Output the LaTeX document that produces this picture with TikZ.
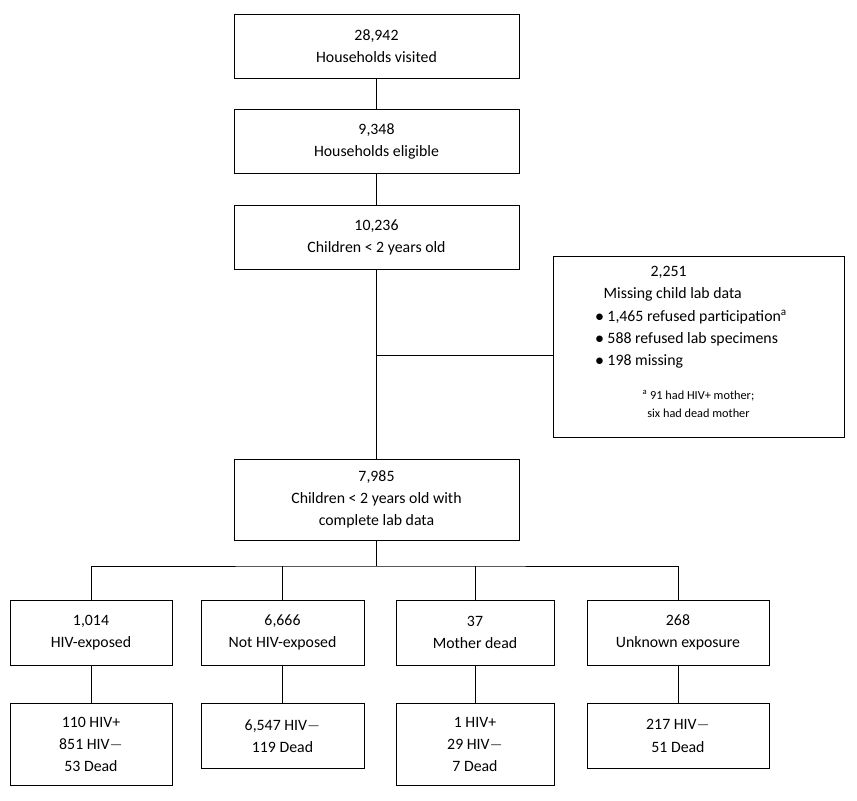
\documentclass[tikz,border=0pt]{standalone}
\usepackage{fontspec}
\setmainfont{Carlito}
\begin{document}
\begin{tikzpicture}[x=0.03cm,y=-0.03cm,
	box/.style={draw, line width=0.8pt, align=center, inner sep=0pt, font=\fontsize{13.5}{19}\selectfont},
	big/.style={box, minimum width=285*0.03cm, minimum height=64*0.03cm},
	small/.style={box, minimum height=65*0.03cm},
	link/.style={line width=0.8pt}]
		\useasboundingbox (0,0) rectangle (857,800);
		% main column
		\node[big] (visited) at (376.5,46) {28,942\\Households visited};
		\node[big] (eligible) at (376.5,141.5) {9,348\\Households eligible};
		\node[big] (children) at (376.5,237.5) {10,236\\Children < 2 years old};
		\node[big, minimum height=81*0.03cm] (complete) at (376.5,499.5) {7,985\\Children < 2 years old with\\complete lab data};
		% side box
		\node[box, minimum width=291*0.03cm, minimum height=181*0.03cm] (missing) at (698.5,346.5) {};
		\node[box, draw=none, align=left, anchor=north west] (misstext) at (595,266)
			{\hspace*{47pt}2,251\\\hspace*{7pt}Missing child lab data\\
			$\bullet$\ 1,465 refused participation\textsuperscript{a}\\
			$\bullet$\ 588 refused lab specimens\\
			$\bullet$\ 198 missing};
		\node[box, draw=none, font=\fontsize{10.5}{16}\selectfont] (note) at (698.5,404) {\textsuperscript{a} 91 had HIV+ mother;\\six had dead mother};
		% exposure row
		\node[small, minimum width=162*0.03cm] (exposed) at (91,632.5) {1,014\\HIV-exposed};
		\node[small, minimum width=163*0.03cm] (notexp) at (282.5,632.5) {6,666\\Not HIV-exposed};
		\node[small, minimum width=158*0.03cm] (dead) at (475,632.5) {37\\Mother dead};
		\node[small, minimum width=182*0.03cm] (unknown) at (678,632.5) {268\\Unknown exposure};
		% outcome row
		\node[box, minimum width=162*0.03cm, minimum height=82*0.03cm, anchor=north] (exposedout) at (91,703) {110 HIV+\\851 HIV$-$\\53 Dead};
		\node[box, minimum width=163*0.03cm, minimum height=65*0.03cm, anchor=north] (notexpout) at (282.5,703) {6,547 HIV$-$\\119 Dead};
		\node[box, minimum width=158*0.03cm, minimum height=82*0.03cm, anchor=north] (deadout) at (475,703) {1 HIV+\\29 HIV$-$\\7 Dead};
		\node[box, minimum width=182*0.03cm, minimum height=65*0.03cm, anchor=north] (unknownout) at (678,703) {217 HIV$-$\\51 Dead};
		% connectors
		\draw[link] (visited) -- (eligible);
		\draw[link] (eligible) -- (children);
		\draw[link] (children) -- (complete);
		\coordinate (split) at (376.5,355);
		\draw[link] (split) -- (split -| missing.west);
		\coordinate (bus) at (376.5,566);
		\draw[link] (complete) -- (bus);
		\draw[link] (exposed.north) |- (bus) -| (unknown.north);
		\draw[link] (notexp.north) -- (notexp.north |- bus);
		\draw[link] (dead.north) -- (dead.north |- bus);
		\draw[link] (exposed) -- (exposedout);
		\draw[link] (notexp) -- (notexpout);
		\draw[link] (dead) -- (deadout);
		\draw[link] (unknown) -- (unknownout);
\end{tikzpicture}
\end{document}
